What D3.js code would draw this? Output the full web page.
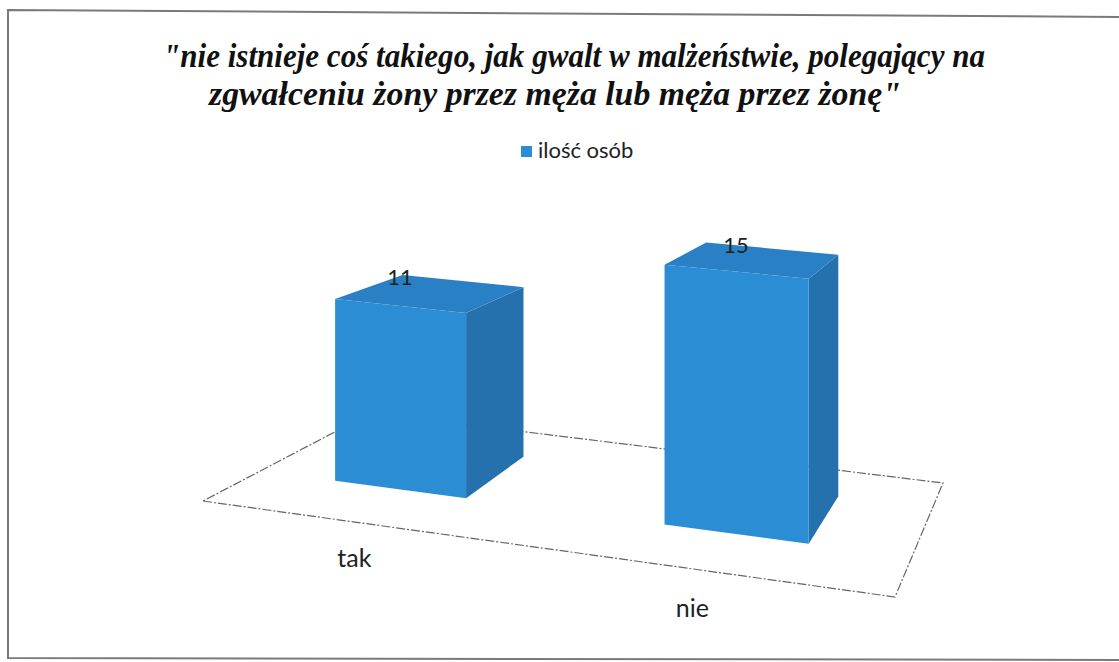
<!DOCTYPE html>
<html>
<head>
<meta charset="utf-8">
<script src="https://cdn.jsdelivr.net/npm/d3@7"></script>
<style>
  body { margin: 0; background: #fff; }
</style>
</head>
<body>
<div id="chart"></div>
<script>
var categories = ["tak", "nie"];
var values = [11, 15];
var seriesName = "ilość osób";
var titleLines = [
  "\"nie istnieje coś takiego, jak gwalt w malżeństwie, polegający na",
  "zgwałceniu żony przez męża lub męża przez żonę\""
];

var width = 1119, height = 662;

// colours of the 3d box faces
var frontColor = "#2b8dd4";
var topColor = "#2a80c5";
var sideColor = "#2571ad";

var svg = d3.select("#chart").append("svg")
  .attr("width", width)
  .attr("height", height)
  .style("font-family", "Lato, 'Open Sans', sans-serif");

/* outer frame of the scanned chart (slightly skewed like the scan) */
svg.append("path")
  .attr("d", "M" + (width + 2) + ",17 L8,10 L8,658 L" + (width + 2) + ",660")
  .attr("fill", "none")
  .attr("stroke", "#7a7a7a")
  .attr("stroke-width", 2);

/* Title */
var titleWidths = [822, 692];
svg.append("g").selectAll("text")
  .data(titleLines).enter()
  .append("text")
  .attr("x", (d, i) => i == 0 ? 574 : 555)
  .attr("y", (d, i) => 67 + i * 38)
  .attr("text-anchor", "middle")
  .attr("textLength", (d, i) => titleWidths[i])
  .attr("lengthAdjust", "spacingAndGlyphs")
  .style("font-family", "'Liberation Serif', 'DejaVu Serif', serif")
  .style("font-style", "italic")
  .style("font-weight", "bold")
  .style("font-size", "34px")
  .style("fill", "#111")
  .text(d => d);

/* Legend */
var legend = svg.append("g").attr("transform", "translate(521,146)");
legend.append("rect")
  .attr("width", 11).attr("height", 11)
  .attr("fill", frontColor);
legend.append("text")
  .attr("x", 17).attr("y", 12)
  .style("font-size", "22px")
  .style("fill", "#222")
  .text(seriesName);

/* perspective floor: maps unit square (u across, v into depth) onto the screen */
var floorCorners = [[203, 501], [895, 597], [943, 483], [371, 413]];

function squareToQuad(q) {
  var x0 = q[0][0], y0 = q[0][1], x1 = q[1][0], y1 = q[1][1];
  var x2 = q[2][0], y2 = q[2][1], x3 = q[3][0], y3 = q[3][1];
  var dx1 = x1 - x2, dy1 = y1 - y2, dx2 = x3 - x2, dy2 = y3 - y2;
  var dx3 = x0 - x1 + x2 - x3, dy3 = y0 - y1 + y2 - y3;
  var den = dx1 * dy2 - dx2 * dy1;
  var g = (dx3 * dy2 - dx2 * dy3) / den;
  var h = (dx1 * dy3 - dx3 * dy1) / den;
  return {
    a: x1 - x0 + g * x1, b: x3 - x0 + h * x3, c: x0,
    d: y1 - y0 + g * y1, e: y3 - y0 + h * y3, f: y0,
    g: g, h: h
  };
}
var H = squareToQuad(floorCorners);

/* Scales */
var xScale = d3.scaleBand()
  .domain(categories)
  .range([-0.026, 1.004])
  .paddingInner(0.591)
  .paddingOuter(0.29);

var depth = [0.30, 0.74];

var yScale = d3.scaleLinear()
  .domain([0, 15])
  .range([0, 261]);

function project(u, v, h) {
  var w = H.g * u + H.h * v + 1;
  return [(H.a * u + H.b * v + H.c) / w, (H.d * u + H.e * v + H.f - h) / w];
}

var poly = d3.line();

/* floor */
svg.append("path")
  .attr("d", poly([project(0, 0, 0), project(1, 0, 0), project(1, 1, 0), project(0, 1, 0)]) + "Z")
  .attr("fill", "none")
  .attr("stroke", "#666")
  .attr("stroke-width", 1.2)
  .attr("stroke-dasharray", "9,2,2,2");

var bars = categories.map((c, i) => {
  var u0 = xScale(c), u1 = u0 + xScale.bandwidth();
  var v0 = depth[0], v1 = depth[1];
  var h = yScale(values[i]);
  return {
    name: c, value: values[i],
    front: [project(u0, v0, 0), project(u1, v0, 0), project(u1, v0, h), project(u0, v0, h)],
    side: [project(u1, v0, 0), project(u1, v1, 0), project(u1, v1, h), project(u1, v0, h)],
    top: [project(u0, v0, h), project(u1, v0, h), project(u1, v1, h), project(u0, v1, h)],
    labelX: project((u0 + u1) / 2, v0, h)[0],
    labelY: project((u0 + u1) / 2, v1, h)[1],
    catPos: project((u0 + u1) / 2, 0, 0)
  };
});

var barG = svg.append("g").selectAll("g")
  .data(bars).enter()
  .append("g");

barG.append("path").attr("d", d => poly(d.side) + "Z").attr("fill", sideColor);
barG.append("path").attr("d", d => poly(d.top) + "Z").attr("fill", topColor);
barG.append("path").attr("d", d => poly(d.front) + "Z").attr("fill", frontColor);

/* value labels */
svg.append("g").selectAll("text")
  .data(bars).enter()
  .append("text")
  .attr("x", d => d.labelX)
  .attr("y", d => d.labelY + 4)
  .attr("text-anchor", "middle")
  .style("font-size", "22px")
  .style("fill", "#222")
  .text(d => d.value);

/* category labels */
svg.append("g").selectAll("text")
  .data(bars).enter()
  .append("text")
  .attr("x", (d, i) => d.catPos[0] + (i == 0 ? 4 : -15))
  .attr("y", d => d.catPos[1] + 46)
  .attr("text-anchor", "middle")
  .style("font-size", "25px")
  .style("fill", "#222")
  .text(d => d.name);
</script>
</body>
</html>
